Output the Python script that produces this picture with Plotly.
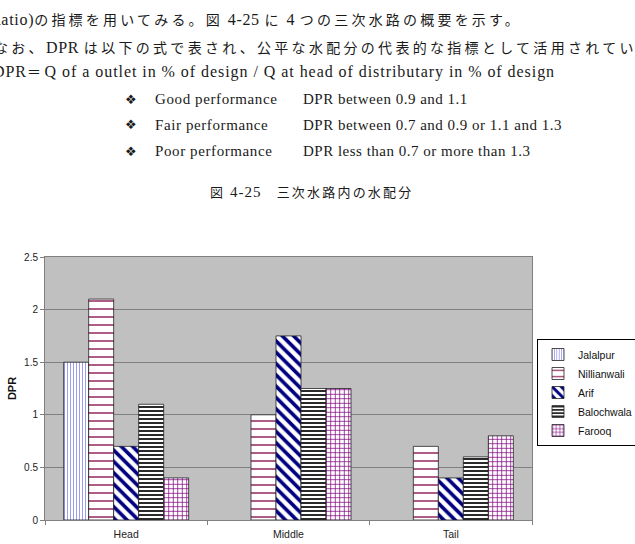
import re
import plotly.graph_objects as go

categories = ["Head", "Middle", "Tail"]
series_names = ["Jalalpur", "Nillianwali", "Arif", "Balochwala", "Farooq"]
jalalpur = [1.5, None, None]
nillianwali = [2.1, 1.0, 0.7]
arif = [0.7, 1.75, 0.4]
balochwala = [1.1, 1.25, 0.6]
farooq = [0.4, 1.25, 0.8]
y_ticks = [0, 0.5, 1, 1.5, 2, 2.5]
y_tick_labels = ["0", "0.5", "1", "1.5", "2", "2.5"]

text_lines = [
    "Ratio)の指標を用いてみる。図 4-25 に 4 つの三次水路の概要を示す。",
    "なお、DPR は以下の式で表され、公平な水配分の代表的な指標として活用されてい",
    "DPR＝Q of a outlet in % of design / Q at head of distributary in % of design",
]
bullet_labels = ["Good performance", "Fair performance", "Poor performance"]
bullet_texts = [
    "DPR between 0.9 and 1.1",
    "DPR between 0.7 and 0.9 or 1.1 and 1.3",
    "DPR less than 0.7 or more than 1.3",
]
figure_title = "図 4-25　三次水路内の水配分"

styles = [
    dict(shape="|", fg="#9c9cf4", size=3, sol=0.35),
    dict(shape="-", fg="#993366", size=8, sol=0.2),
    dict(shape="\\", fg="#000080", size=8, sol=0.45),
    dict(shape="-", fg="#111111", size=4, sol=0.45),
    dict(shape="+", fg="#800080", size=4.5, sol=0.3),
]
values = [jalalpur, nillianwali, arif, balochwala, farooq]

fig = go.Figure()
for name, vals, st in zip(series_names, values, styles):
    fig.add_trace(go.Bar(
        name=name, x=categories, y=vals,
        marker=dict(
            color="white",
            line=dict(color="#222222", width=0.8),
            pattern=dict(shape=st["shape"], fgcolor=st["fg"], bgcolor="white",
                         size=st["size"], solidity=st["sol"], fgopacity=1,
                         fillmode="replace"),
        ),
    ))

L, R, T, B = 45, 532, 257, 520
W, H = 635, 544

def px(x):
    return (x - L) / (R - L)

def py(y):
    return (B - y) / (B - T)

serif = "Liberation Serif, Noto Sans CJK JP"
CJK_RE = re.compile(r"([\u3000-\u30ff\u4e00-\u9fff\uff00-\uffef]+)")

def spaced(text, cjk_sp, lat_sp, cjk_size):
    out = []
    for part in CJK_RE.split(text):
        if not part:
            continue
        if CJK_RE.fullmatch(part):
            out.append('<span style="letter-spacing:%spx;font-size:%spx">%s</span>'
                       % (cjk_sp, cjk_size, part))
        else:
            out.append('<span style="letter-spacing:%spx">%s</span>' % (lat_sp, part))
    return "".join(out)

ann = []
def add_text(text, x, y, size=16, anchor="left", cjk_sp=3.6, lat_sp=0.7,
             cjk_size=14, family=serif):
    ann.append(dict(text=spaced(text, cjk_sp, lat_sp, cjk_size), x=px(x), y=py(y),
                    xref="paper", yref="paper",
                    xanchor=anchor, yanchor="middle", showarrow=False,
                    font=dict(family=family, size=size, color="#1a1a1a")))

add_text(text_lines[0], -12, 20, cjk_sp=3.2)
add_text(text_lines[1], -8, 47, cjk_sp=3.3)
add_text(text_lines[2], -9, 72, lat_sp=0.95)
for i, (lab, txt) in enumerate(zip(bullet_labels, bullet_texts)):
    yy = 99 + i * 26
    ann.append(dict(text="❖", x=px(131), y=py(yy), xref="paper", yref="paper",
                    xanchor="center", yanchor="middle", showarrow=False,
                    font=dict(family="DejaVu Sans", size=13, color="#1a1a1a")))
    add_text(lab, 153, yy, size=15, lat_sp=0.6)
    add_text(txt, 301, yy, size=15, lat_sp=0.5)
add_text(figure_title, 208, 192, cjk_sp=2.2, cjk_size=13, size=15, lat_sp=1)

fig.update_layout(
    width=W, height=H,
    margin=dict(l=L, r=W - R, t=T, b=H - B, pad=0, autoexpand=False),
    paper_bgcolor="white", plot_bgcolor="#c0c0c0",
    barmode="group", bargap=0.23, bargroupgap=0,
    font=dict(family="Arial, Liberation Sans", size=10, color="#222222"),
    showlegend=True,
    legend=dict(x=px(537), y=py(339), xanchor="left", yanchor="top",
                bordercolor="#000000", borderwidth=1, bgcolor="white",
                font=dict(size=10.5, color="#111111"), itemwidth=30,
                tracegroupgap=0),
    annotations=ann,
    xaxis=dict(showline=True, linecolor="#808080", linewidth=1, mirror=True,
               ticks="outside", ticklen=4, tickcolor="#808080",
               tickson="boundaries", showgrid=False, automargin=False,
               ticklabelstandoff=4,
               tickfont=dict(size=10.5, color="#222222")),
    yaxis=dict(range=[0, 2.5], tickvals=y_ticks, ticktext=y_tick_labels,
               showline=True, linecolor="#808080", linewidth=1, mirror=True,
               ticks="outside", ticklen=4, tickcolor="#808080",
               gridcolor="#808080", gridwidth=1, zeroline=False,
               automargin=False,
               tickfont=dict(size=10, color="#222222"),
               title=dict(text="<b>DPR</b>", font=dict(size=11, color="#111111"),
                          standoff=5)),
)

fig.write_html("out.html")
